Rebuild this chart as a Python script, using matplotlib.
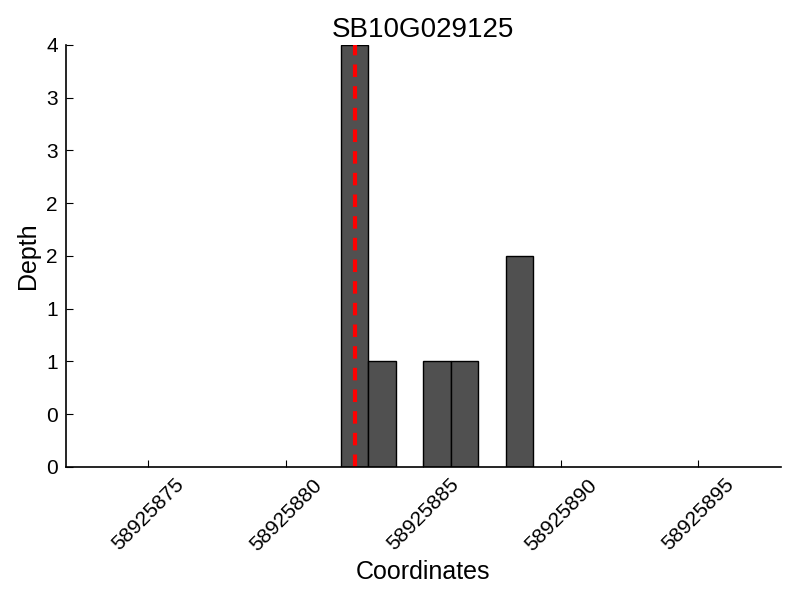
import matplotlib
matplotlib.use("Agg")
import matplotlib.pyplot as plt
from matplotlib.ticker import FormatStrFormatter

plt.rcParams['font.family'] = ['Liberation Sans', 'DejaVu Sans']

positions = [58925882, 58925883, 58925885, 58925886, 58925888]
depths = [4, 1, 1, 1, 2]
marker_pos = 58925882.5
xticks = [58925875, 58925880, 58925885, 58925890, 58925895]
yticks = [0, 0.5, 1, 1.5, 2, 2.5, 3, 3.5, 4]
title = "SB10G029125"

fig = plt.figure(figsize=(8, 6), dpi=100)
ax = fig.add_axes([0.0825, 0.222, 0.8935, 0.703])
ax.bar(positions, depths, width=1, align='edge', color='#505050', edgecolor='black', linewidth=1)
ax.axvline(marker_pos, color='red', linestyle='--', linewidth=3, dashes=(3, 2.2))
ax.set_xlim(58925872, 58925898)
ax.set_ylim(0, 4)
ax.set_xticks(xticks)
ax.set_xticklabels([str(t) for t in xticks], rotation=45, fontsize=15)
ax.set_yticks(yticks)
ax.yaxis.set_major_formatter(FormatStrFormatter('%d'))
ax.tick_params(axis='y', labelsize=15)
ax.tick_params(direction='in', length=5, top=False, right=False, pad=6)
for s in ['top', 'right']:
    ax.spines[s].set_visible(False)
for s in ['left', 'bottom']:
    ax.spines[s].set_linewidth(1.2)
ax.set_xlabel('Coordinates', fontsize=18)
ax.set_ylabel('Depth', fontsize=18)
ax.set_title(title, fontsize=20)
fig.savefig('out.png', dpi=100)
